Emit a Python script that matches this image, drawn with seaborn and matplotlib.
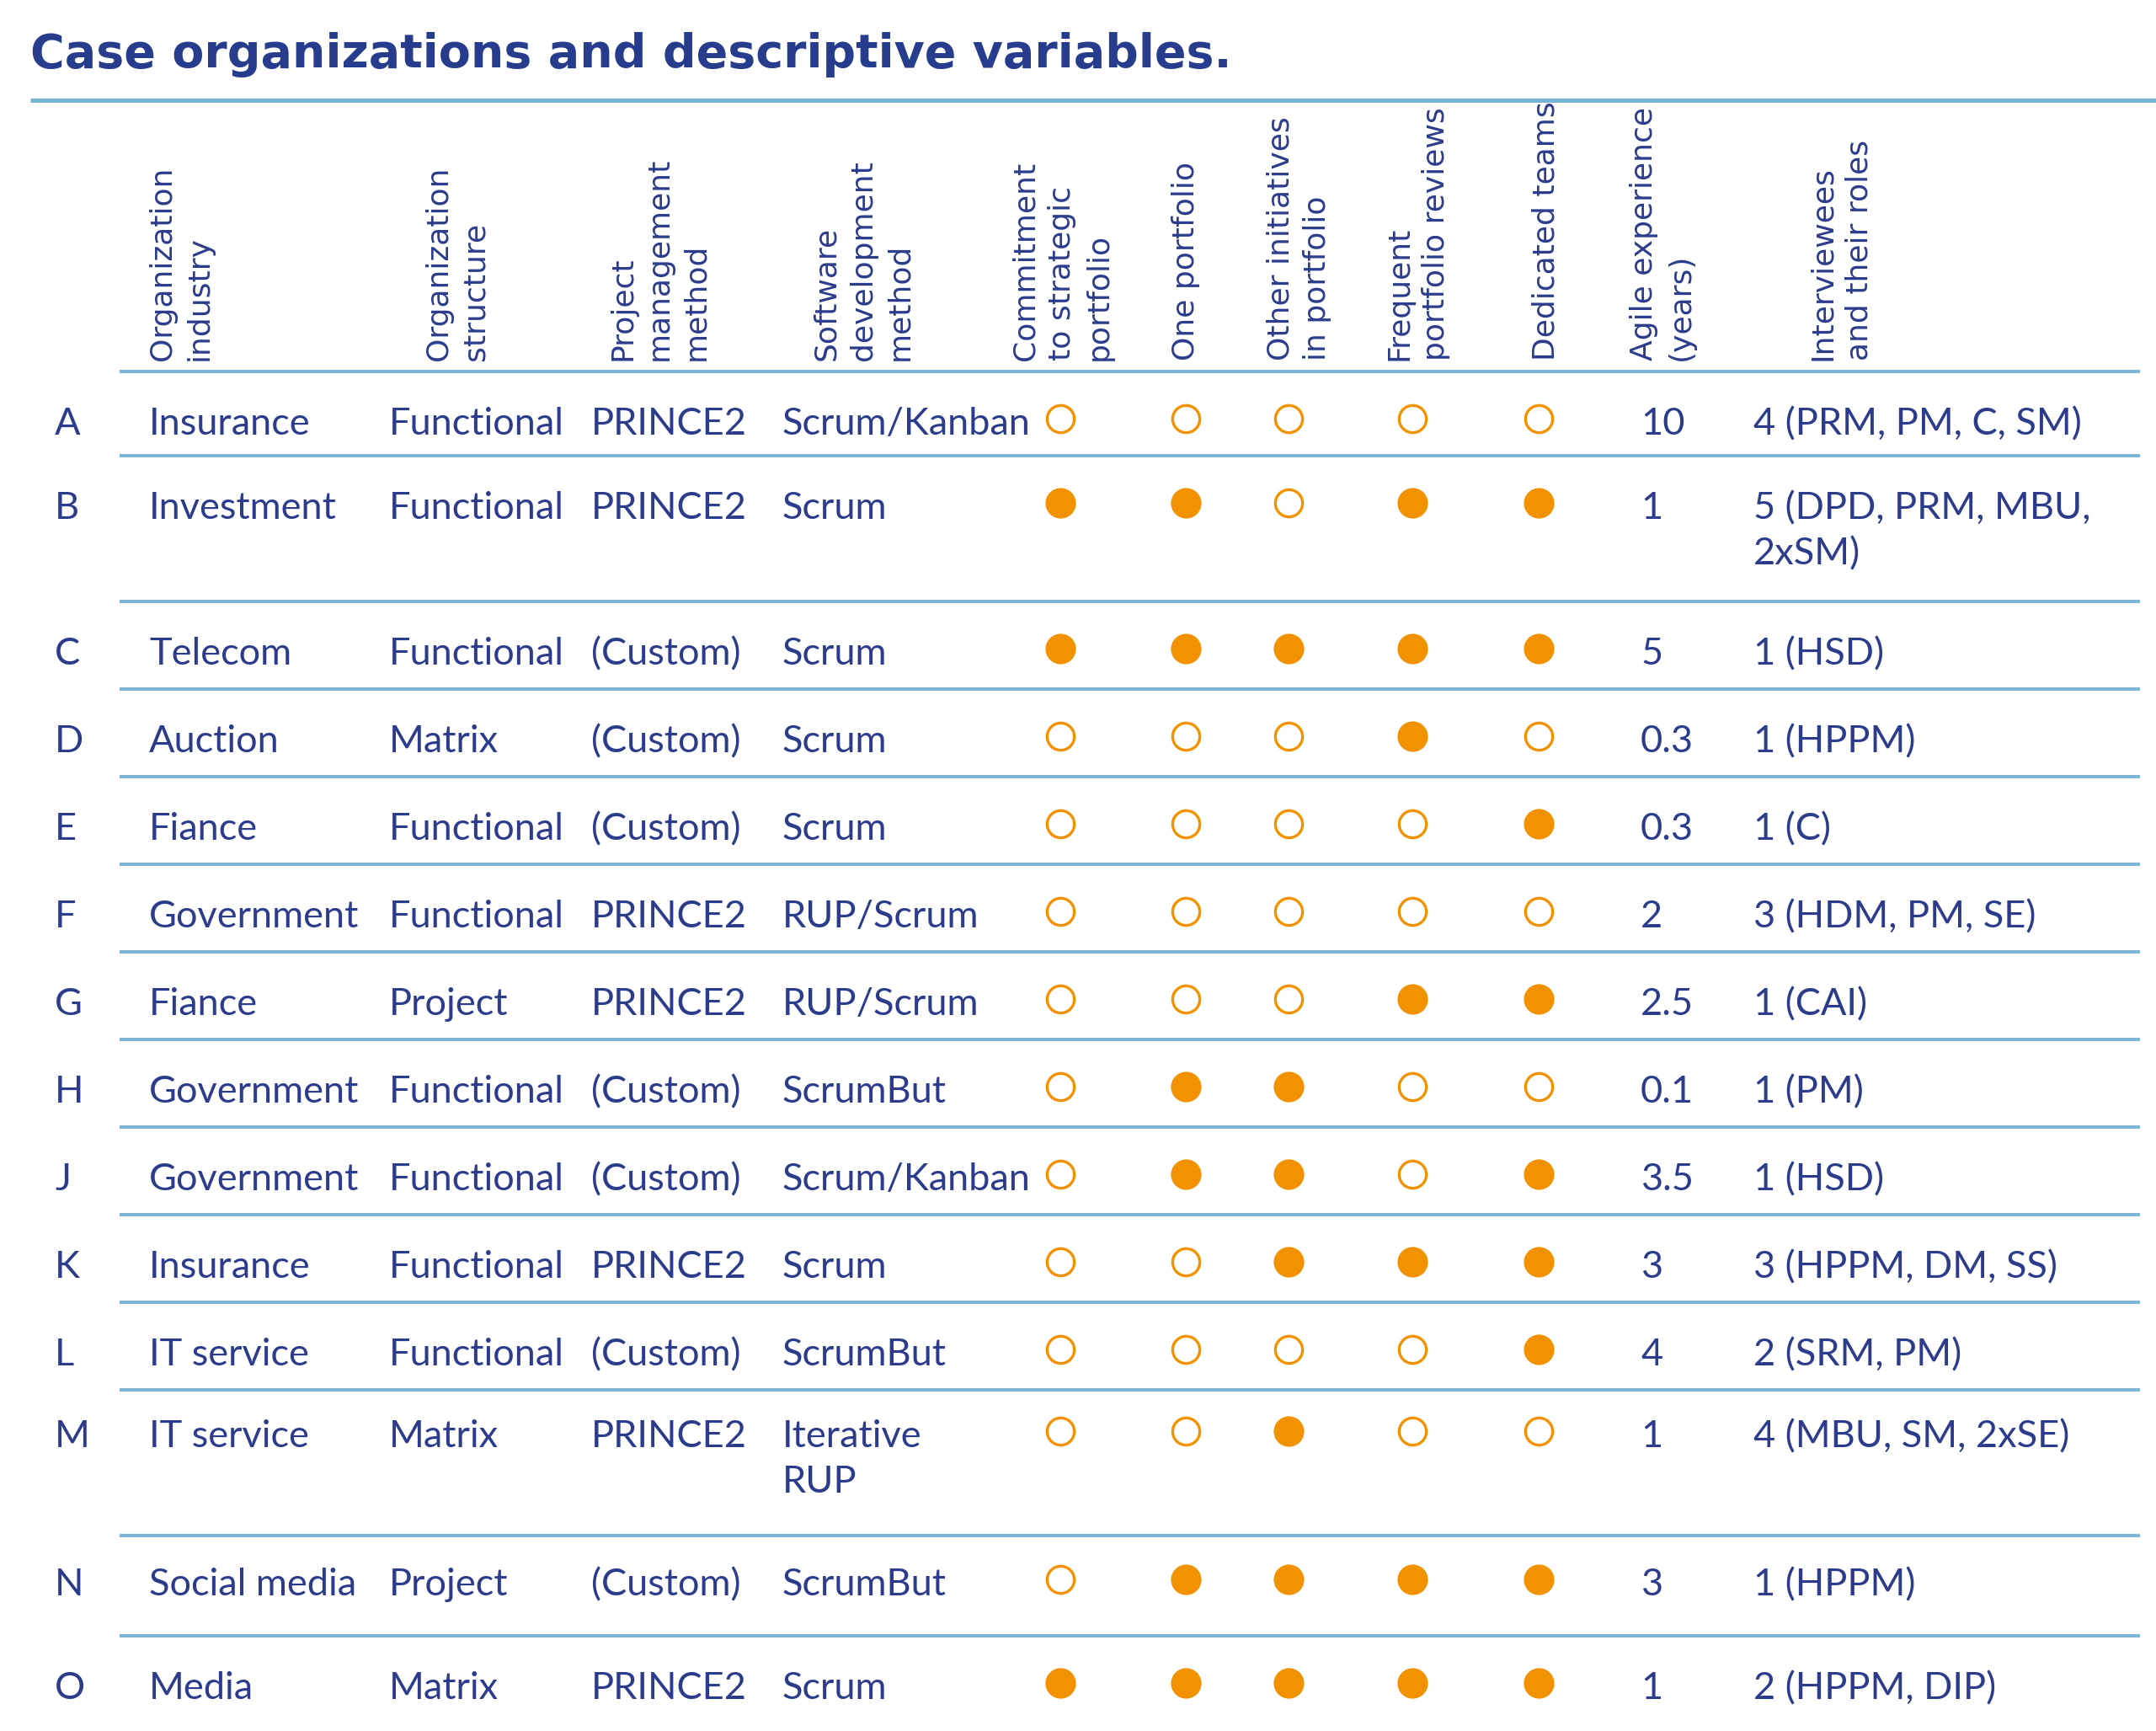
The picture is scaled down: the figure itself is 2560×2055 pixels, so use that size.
import numpy as np
import pandas as pd
import matplotlib
matplotlib.use("Agg")
import matplotlib.pyplot as plt
import seaborn as sns

# ---------------- data ----------------
title = "Case organizations and descriptive variables."
headers = ["Organization\nindustry", "Organization\nstructure", "Project\nmanagement\nmethod",
           "Software\ndevelopment\nmethod", "Commitment\nto strategic\nportfolio", "One portfolio",
           "Other initiatives\nin portfolio", "Frequent\nportfolio reviews", "Dedicated teams",
           "Agile experience\n(years)", "Interviewees\nand their roles"]
cases = ["A", "B", "C", "D", "E", "F", "G", "H", "J", "K", "L", "M", "N", "O"]
industry = ["Insurance", "Investment", "Telecom", "Auction", "Fiance", "Government", "Fiance",
            "Government", "Government", "Insurance", "IT service", "IT service", "Social media", "Media"]
structure = ["Functional", "Functional", "Functional", "Matrix", "Functional", "Functional", "Project",
             "Functional", "Functional", "Functional", "Functional", "Matrix", "Project", "Matrix"]
pm_method = ["PRINCE2", "PRINCE2", "(Custom)", "(Custom)", "(Custom)", "PRINCE2", "PRINCE2",
             "(Custom)", "(Custom)", "PRINCE2", "(Custom)", "PRINCE2", "(Custom)", "PRINCE2"]
sd_method = ["Scrum/Kanban", "Scrum", "Scrum", "Scrum", "Scrum", "RUP/Scrum", "RUP/Scrum",
             "ScrumBut", "Scrum/Kanban", "Scrum", "ScrumBut", "Iterative\nRUP", "ScrumBut", "Scrum"]
commitment = [0, 1, 1, 0, 0, 0, 0, 0, 0, 0, 0, 0, 0, 1]
one_portfolio = [0, 1, 1, 0, 0, 0, 0, 1, 1, 0, 0, 0, 1, 1]
other_initiatives = [0, 0, 1, 0, 0, 0, 0, 1, 1, 1, 0, 1, 1, 1]
frequent_reviews = [0, 1, 1, 1, 0, 0, 1, 0, 0, 1, 0, 0, 1, 1]
dedicated_teams = [0, 1, 1, 0, 1, 0, 1, 0, 1, 1, 1, 0, 1, 1]
agile_years = ["10", "1", "5", "0.3", "0.3", "2", "2.5", "0.1", "3.5", "3", "4", "1", "3", "1"]
interviewees = ["4 (PRM, PM, C, SM)", "5 (DPD, PRM, MBU,\n2xSM)", "1 (HSD)", "1 (HPPM)", "1 (C)",
                "3 (HDM, PM, SE)", "1 (CAI)", "1 (PM)", "1 (HSD)", "3 (HPPM, DM, SS)", "2 (SRM, PM)",
                "4 (MBU, SM, 2xSE)", "1 (HPPM)", "2 (HPPM, DIP)"]

# ---------------- style / layout ----------------
NAVY = "#2c3b8b"
TITLE_C = "#283c8e"
ORANGE = "#f39200"
LINE = "#79b4d5"
W, H = 2560, 2055

sns.set_theme(style="white")
plt.rcParams["font.family"] = ["Lato", "DejaVu Sans"]

fig = plt.figure(figsize=(W / 100, H / 100), dpi=100)
ax = fig.add_axes([0, 0, 1, 1])

# column layout (pixel x)
x_case, x_ind, x_str, x_pm, x_sd = 65, 177, 462, 702, 929
dot_x = [1259, 1408, 1530, 1677, 1827]
x_agile, x_int = 1948, 2082
header_x = [215, 543, 783, 1025, 1261, 1408, 1542, 1683, 1836, 1974, 2186]

top_line_y = 119
header_line_y = 441
row_heights = [100, 173, 104, 104, 104, 104, 104, 104, 104, 104, 104, 173, 119, 112]
text_offsets = [59, 59, 59, 59, 59, 59, 59, 59, 59, 59, 59, 52, 55, 59]
line_step = 54
body_fs = 32.5

text_cols = [cases, industry, structure, pm_method, sd_method, agile_years, interviewees]
tops = header_line_y + np.concatenate([[0], np.cumsum(row_heights)[:-1]])
bottoms = tops + np.array(row_heights)

# title
ax.text(36, 80, title, fontsize=40, fontweight="heavy", color=TITLE_C,
        family="DejaVu Sans", ha="left", va="baseline")

# rules
ax.hlines(top_line_y, 36, W, color=LINE, lw=3.6)
ax.hlines(header_line_y, 142, 2541, color=LINE, lw=2.8)
ax.hlines(bottoms[:-1], 142, 2541, color=LINE, lw=2.8)

# header texts (rotated)
for hx, htxt in zip(header_x, headers):
    ax.text(hx, 428, htxt, rotation=90, fontsize=26, color=NAVY, family="DejaVu Sans",
            ha="center", va="bottom", multialignment="left", linespacing=1.35)

# body texts
col_x = [x_case, x_ind, x_str, x_pm, x_sd, x_agile, x_int]
for ci, col in enumerate(text_cols):
    for ri, cell in enumerate(col):
        for li, line in enumerate(cell.split("\n")):
            ax.text(col_x[ci], tops[ri] + text_offsets[ri] + 16 + li * line_step, line,
                    fontsize=body_fs, color=NAVY, ha="left", va="baseline")

# dots via seaborn
dot_cols = [commitment, one_portfolio, other_initiatives, frequent_reviews, dedicated_teams]
recs = []
for ci, col in enumerate(dot_cols):
    for ri, v in enumerate(col):
        recs.append({"x": dot_x[ci], "y": tops[ri] + text_offsets[ri] - 3, "filled": v})
dots = pd.DataFrame(recs)

sns.scatterplot(data=dots[dots["filled"] == 1], x="x", y="y", ax=ax, s=680,
                color=ORANGE, edgecolor=ORANGE, linewidth=0, legend=False)
sns.scatterplot(data=dots[dots["filled"] == 0], x="x", y="y", ax=ax, s=540,
                facecolor="white", edgecolor=ORANGE, linewidth=2.4, legend=False)
ax.set_xlim(0, W)
ax.set_ylim(H, 0)
ax.axis("off")

fig.savefig("out.png", dpi=100, facecolor="white")
